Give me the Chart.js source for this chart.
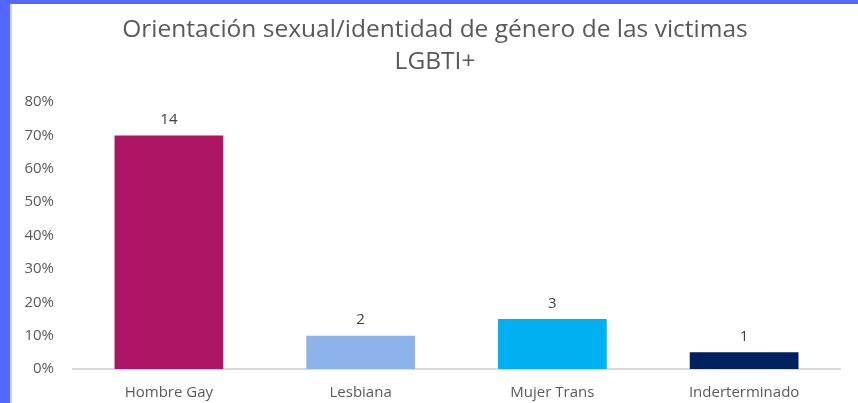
<!DOCTYPE html>
<html><head><meta charset="utf-8">
<script src="https://cdn.jsdelivr.net/npm/chart.js@4"></script>
<style>
html,body{margin:0;padding:0;width:858px;height:403px;overflow:hidden;background:#5468ff;}
#frame{position:absolute;left:10px;top:4px;width:848px;height:416px;background:#fff;border-left:2px solid #d0d0d0;box-sizing:border-box;}
#wrap{position:absolute;left:-1px;top:0;width:848px;height:413px;}
</style></head>
<body>
<div id="frame"><div id="wrap"><canvas id="c"></canvas></div></div>
<script>
const titleLines = ['Orientación sexual/identidad de género de las victimas', 'LGBTI+'];
const categories = ['Hombre Gay', 'Lesbiana', 'Mujer Trans', 'Inderterminado'];
const shares = [0.70, 0.10, 0.15, 0.05];
const counts = [14, 2, 3, 1];
const barColors = ['#ad1463', '#8db4ea', '#00b0f0', '#002060'];
const yTicks = [0, 0.1, 0.2, 0.3, 0.4, 0.5, 0.6, 0.7, 0.8];

const FONT = "'Open Sans', sans-serif";
const labelPlugin = {
  id: 'countLabels',
  afterDatasetsDraw(chart) {
    const ctx = chart.ctx;
    const meta = chart.getDatasetMeta(0);
    ctx.save();
    ctx.font = "15px " + FONT;
    ctx.fillStyle = '#404040';
    ctx.textAlign = 'center';
    ctx.textBaseline = 'bottom';
    meta.data.forEach((bar, i) => {
      ctx.fillText(String(counts[i]), bar.x, bar.y - 8);
    });
    ctx.restore();
  }
};
const titlePlugin = {
  id: 'centredTitle',
  afterDraw(chart) {
    const ctx = chart.ctx;
    ctx.save();
    ctx.font = "24.5px " + FONT;
    ctx.fillStyle = '#595959';
    ctx.textAlign = 'center';
    ctx.textBaseline = 'middle';
    titleLines.forEach((t, i) => ctx.fillText(t, chart.width / 2, 26 + i * 32));
    ctx.restore();
  }
};

new Chart(document.getElementById('c'), {
  type: 'bar',
  data: {
    labels: categories,
    datasets: [{
      data: shares,
      backgroundColor: barColors,
      categoryPercentage: 0.567,
      barPercentage: 1.0
    }]
  },
  options: {
    responsive: true,
    maintainAspectRatio: false,
    animation: false,
    layout: { padding: { left: 0, right: 19, top: 98, bottom: 0 } },
    plugins: {
      legend: { display: false },
      tooltip: { enabled: false },
      title: { display: false }
    },
    scales: {
      x: {
        grid: { display: false, drawTicks: false },
        border: { display: true, color: '#d9d9d9', width: 2 },
        ticks: { color: '#595959', font: { family: FONT, size: 15 }, padding: 15 }
      },
      y: {
        min: 0, max: 0.8,
        afterFit(s) { s.width = 62; },
        afterBuildTicks(s) { s.ticks = yTicks.map(v => ({ value: v })); },
        grid: { display: false, drawTicks: false },
        border: { display: false },
        ticks: {
          color: '#595959',
          font: { family: FONT, size: 15 },
          padding: 19,
          callback: v => Math.round(v * 100) + '%'
        }
      }
    }
  },
  plugins: [labelPlugin, titlePlugin]
});
</script>
</body></html>
